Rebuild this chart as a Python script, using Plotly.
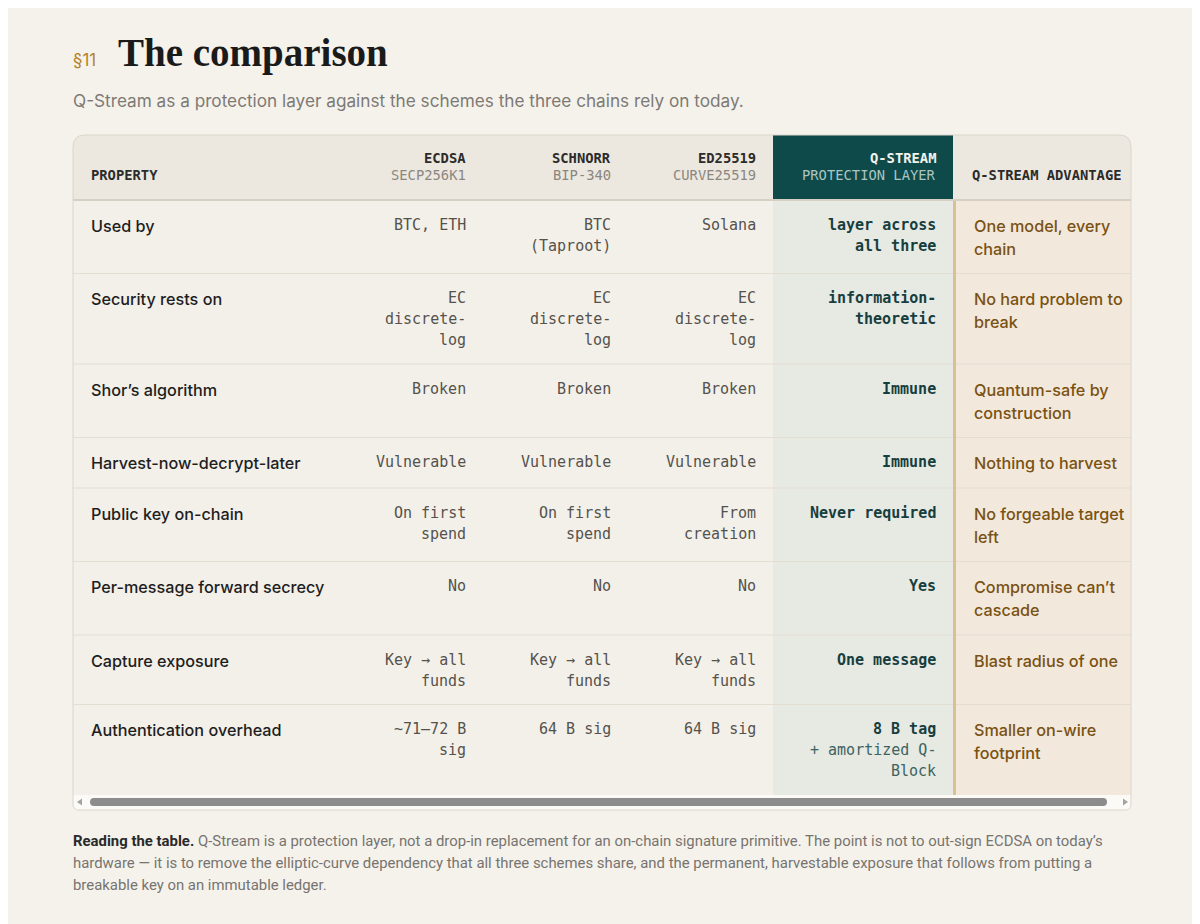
import plotly.graph_objects as go

# ---------------- data ----------------
section_label = "§11"
title_text = "The comparison"
subtitle_text = "Q-Stream as a protection layer against the schemes the three chains rely on today."

header_property = "PROPERTY"
scheme_names = ["ECDSA", "SCHNORR", "ED25519"]
scheme_curves = ["SECP256K1", "BIP-340", "CURVE25519"]
qstream_header = ["Q-STREAM", "PROTECTION LAYER"]
advantage_header = "Q-STREAM ADVANTAGE"

properties = [
    "Used by",
    "Security rests on",
    "Shor\u2019s algorithm",
    "Harvest-now-decrypt-later",
    "Public key on-chain",
    "Per-message forward secrecy",
    "Capture exposure",
    "Authentication overhead",
]
ecdsa = ["BTC, ETH", "EC\ndiscrete-\nlog", "Broken", "Vulnerable", "On first\nspend", "No",
         "Key \u2192 all\nfunds", "~71\u201372 B\nsig"]
schnorr = ["BTC\n(Taproot)", "EC\ndiscrete-\nlog", "Broken", "Vulnerable", "On first\nspend", "No",
           "Key \u2192 all\nfunds", "64 B sig"]
ed25519 = ["Solana", "EC\ndiscrete-\nlog", "Broken", "Vulnerable", "From\ncreation", "No",
           "Key \u2192 all\nfunds", "64 B sig"]
qstream = ["layer across\nall three", "information-\ntheoretic", "Immune", "Immune", "Never required",
           "Yes", "One message", "8 B tag"]
qstream_note = ["", "", "", "", "", "", "", "+ amortized Q-\nBlock"]
advantage = ["One model, every\nchain", "No hard problem to\nbreak", "Quantum-safe by\nconstruction",
             "Nothing to harvest", "No forgeable target\nleft", "Compromise can\u2019t\ncascade",
             "Blast radius of one", "Smaller on-wire\nfootprint"]

caption_lines = [
    "<b><span style='color:#2a2a2a'>Reading the table.</span></b> Q-Stream is a protection layer, not a drop-in replacement for an on-chain signature primitive. The point is not to out-sign ECDSA on today\u2019s",
    "hardware \u2014 it is to remove the elliptic-curve dependency that all three schemes share, and the permanent, harvestable exposure that follows from putting a",
    "breakable key on an immutable ledger.",
]

# ---------------- style / layout ----------------
W, H = 1200, 924
OFF = 8  # page body margin compensation
BG = "#f5f2ec"
MONO = "DejaVu Sans Mono"
SANS = "Inter"
col_edges = [73, 338, 483, 628, 773, 953, 1131]
TOP, HEAD_BOTTOM = 135, 200
MONO_LH, SANS_LH = 21, 23
PAD_T, PAD_B = 14, 13.5
HDR = 13.8

fig = go.Figure()
shapes = []
ann = []


def text(x, y, s, size, color, family, xanchor="left", yanchor="middle", weight="normal"):
    ann.append(dict(x=x, y=y, text=s, showarrow=False, xanchor=xanchor, yanchor=yanchor,
                    borderpad=0, font=dict(size=size, color=color, family=family, weight=weight),
                    xref="x", yref="y"))


def nlines(s):
    return len(s.split("\n")) if s else 0

row_heights = []
for i in range(len(properties)):
    mono_n = max(nlines(ecdsa[i]), nlines(schnorr[i]), nlines(ed25519[i]),
                 nlines(qstream[i]) + nlines(qstream_note[i]))
    sans_n = max(nlines(properties[i]), nlines(advantage[i]))
    row_heights.append(PAD_T + PAD_B + max(mono_n * MONO_LH, sans_n * SANS_LH))
row_tops = [HEAD_BOTTOM]
for h in row_heights:
    row_tops.append(row_tops[-1] + h)
BODY_BOTTOM = row_tops[-1]
SCROLL_BOTTOM = BODY_BOTTOM + 15
L, R = col_edges[0], col_edges[-1]
rad = 12

# backgrounds
shapes.append(dict(type="path", layer="below", line=dict(width=0), fillcolor="#ede8df",
                   path=f"M{L},{TOP+rad} Q{L},{TOP} {L+rad},{TOP} L{R-rad},{TOP} Q{R},{TOP} {R},{TOP+rad} L{R},{HEAD_BOTTOM} L{L},{HEAD_BOTTOM} Z"))
shapes.append(dict(type="rect", layer="below", line=dict(width=0), fillcolor="#0f4a4a",
                   x0=col_edges[4], x1=col_edges[5], y0=TOP, y1=HEAD_BOTTOM))
shapes.append(dict(type="rect", layer="below", line=dict(width=0), fillcolor="#f3f0e9",
                   x0=L, x1=R, y0=HEAD_BOTTOM, y1=BODY_BOTTOM))
shapes.append(dict(type="rect", layer="below", line=dict(width=0), fillcolor="#e7e9e3",
                   x0=col_edges[4], x1=col_edges[5], y0=HEAD_BOTTOM, y1=BODY_BOTTOM))
shapes.append(dict(type="rect", layer="below", line=dict(width=0), fillcolor="#f2e9dc",
                   x0=col_edges[5], x1=R, y0=HEAD_BOTTOM, y1=BODY_BOTTOM))
# scroll area
shapes.append(dict(type="path", layer="below", line=dict(width=0), fillcolor="#fbfaf7",
                   path=f"M{L},{BODY_BOTTOM} L{R},{BODY_BOTTOM} L{R},{SCROLL_BOTTOM-6} Q{R},{SCROLL_BOTTOM} {R-6},{SCROLL_BOTTOM} L{L+6},{SCROLL_BOTTOM} Q{L},{SCROLL_BOTTOM} {L},{SCROLL_BOTTOM-6} Z"))
ty0, ty1, tx0, tx1 = BODY_BOTTOM + 3, BODY_BOTTOM + 11, 90, 1107
shapes.append(dict(type="path", layer="below", line=dict(width=0), fillcolor="#8c8c8c",
                   path=f"M{tx0+4},{ty0} L{tx1-4},{ty0} Q{tx1},{ty0} {tx1},{(ty0+ty1)/2} Q{tx1},{ty1} {tx1-4},{ty1} L{tx0+4},{ty1} Q{tx0},{ty1} {tx0},{(ty0+ty1)/2} Q{tx0},{ty0} {tx0+4},{ty0} Z"))
cy = (ty0 + ty1) / 2
shapes.append(dict(type="path", layer="below", line=dict(width=0), fillcolor="#a3a3a3",
                   path=f"M82,{cy-3.5} L77,{cy} L82,{cy+3.5} Z"))
shapes.append(dict(type="path", layer="below", line=dict(width=0), fillcolor="#a3a3a3",
                   path=f"M1123,{cy-3.5} L1128,{cy} L1123,{cy+3.5} Z"))

# separators
for yt in row_tops[1:-1]:
    shapes.append(dict(type="line", layer="below", line=dict(color="#e3ddd2", width=1),
                       x0=L, x1=R, y0=yt, y1=yt))
shapes.append(dict(type="line", layer="below", line=dict(color="#d6cfc3", width=2),
                   x0=L, x1=R, y0=HEAD_BOTTOM, y1=HEAD_BOTTOM))
shapes.append(dict(type="line", layer="below", line=dict(color="#d9c196", width=3),
                   x0=col_edges[5] + 1.5, x1=col_edges[5] + 1.5, y0=HEAD_BOTTOM + 1, y1=BODY_BOTTOM))
# container outline
shapes.append(dict(type="path", layer="below", line=dict(color="#dcd6cb", width=1), fillcolor="rgba(0,0,0,0)",
                   path=f"M{L},{TOP+rad} Q{L},{TOP} {L+rad},{TOP} L{R-rad},{TOP} Q{R},{TOP} {R},{TOP+rad} L{R},{SCROLL_BOTTOM-6} Q{R},{SCROLL_BOTTOM} {R-6},{SCROLL_BOTTOM} L{L+6},{SCROLL_BOTTOM} Q{L},{SCROLL_BOTTOM} {L},{SCROLL_BOTTOM-6} Z"))

# title block
text(72, 60, section_label, 17, "#b5832a", SANS)
text(117, 53, f"<b>{title_text}</b>", 39, "#1a1a1a", "Liberation Serif")
text(72, 100, subtitle_text, 17.2, "#7d7a75", SANS)

# header
H1, H2 = 158, 175
text(col_edges[0] + 17, H2, f"<b>{header_property}</b>", HDR, "#2b2b2b", MONO)
for j, (nm, cv) in enumerate(zip(scheme_names, scheme_curves)):
    xr = col_edges[j + 2] - 16
    text(xr, H1, f"<b>{nm}</b>", HDR, "#2b2b2b", MONO, xanchor="right")
    text(xr, H2, cv, HDR, "#8a8680", MONO, xanchor="right")
text(col_edges[5] - 16, H1, f"<b>{qstream_header[0]}</b>", HDR, "#f3f3ee", MONO, xanchor="right")
text(col_edges[5] - 16, H2, qstream_header[1], HDR, "#a9c6c1", MONO, xanchor="right")
text(col_edges[5] + 18, H2, f"<b>{advantage_header}</b>", HDR, "#2b2b2b", MONO)

# body cells
for i in range(len(properties)):
    top = row_tops[i] + PAD_T
    for k, ln in enumerate(properties[i].split("\n")):
        text(col_edges[0] + 17, top + SANS_LH * (k + 0.5), ln, 16.2, "#1e1e1e", SANS, weight=500)
    for j, col in enumerate([ecdsa, schnorr, ed25519]):
        for k, ln in enumerate(col[i].split("\n")):
            text(col_edges[j + 2] - 16, top + MONO_LH * (k + 0.5), ln, 15, "#55524d", MONO, xanchor="right")
    qlines = qstream[i].split("\n")
    for k, ln in enumerate(qlines):
        text(col_edges[5] - 16, top + MONO_LH * (k + 0.5), ln, 15, "#173e3e", MONO, xanchor="right", weight="bold")
    if qstream_note[i]:
        for k, ln in enumerate(qstream_note[i].split("\n")):
            text(col_edges[5] - 16, top + MONO_LH * (len(qlines) + k + 0.5), ln, 15, "#3d6360", MONO, xanchor="right")
    for k, ln in enumerate(advantage[i].split("\n")):
        text(col_edges[5] + 20, top + SANS_LH * (k + 0.5), ln, 16.2, "#7a5213", SANS, weight=500)

# caption
for k, ln in enumerate(caption_lines):
    text(72, 841 + 22 * k, ln, 14.9, "#77746f", "Roboto")

fig.update_layout(
    width=W, height=H, margin=dict(l=0, r=0, t=0, b=0),
    paper_bgcolor=BG, plot_bgcolor=BG,
    xaxis=dict(range=[OFF, W + OFF], visible=False, fixedrange=True),
    yaxis=dict(range=[H + OFF, OFF], visible=False, fixedrange=True),
    shapes=shapes, annotations=ann, showlegend=False,
)
fig.write_html("out.html")
